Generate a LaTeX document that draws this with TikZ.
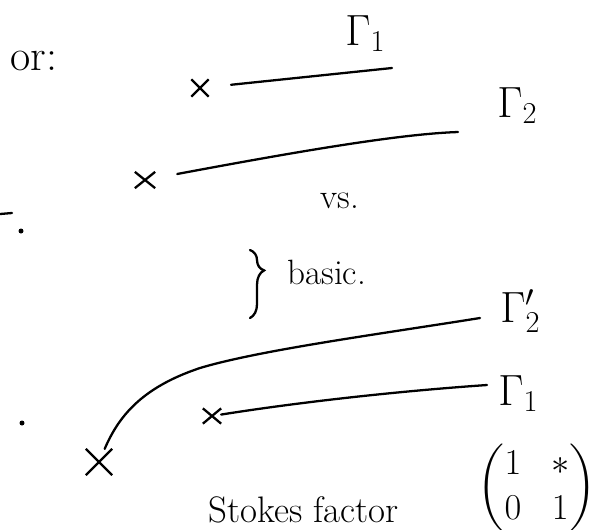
\documentclass[tikz,border=0pt]{standalone}
\usepackage{amsmath}
\usepackage{tikz}
\usetikzlibrary{shapes.misc, decorations.pathreplacing}
\tikzset{
    % Mark styles
    crossmark/.style={
        cross out,
        draw=black,
        line width=1.3pt,
        minimum size=0.3cm,
        inner sep=0pt
    },
    % Line styles
    handline/.style={
        draw=black,
        line width=1.3pt,
        line cap=round
    },
    % Text styles
    handtext/.style={
        font=\fontsize{20}{24}\selectfont,
        inner sep=0pt
    },
    gammalabel/.style={
        font=\fontsize{24}{28}\selectfont,
        inner sep=0pt
    }
}

\begin{document}
\begin{tikzpicture}[x=0.02cm, y=-0.02cm]
    \useasboundingbox (0,0) rectangle (605,529);

    \node[handtext, font=\fontsize{25}{30}\selectfont, anchor=base west] (or) at (10,70) {or:};
    \node[handtext, anchor=base west] (vs) at (320,208) {vs.};
    \node[handtext, anchor=base west] (basic) at (287,284) {basic.};
    \node[handtext, font=\fontsize{21}{25}\selectfont, anchor=base west] (stokes) at (208,522) {Stokes factor};
    \node[handtext] (stokesmat) at (537,488)
        {$\arraycolsep=8.5pt\renewcommand{\arraystretch}{1.05}\begin{pmatrix}1 & *\\ 0 & 1\end{pmatrix}$};

    % upper pair
    \node[crossmark] (c1) at (200,88) {};
    \node[crossmark, minimum width=0.36cm, minimum height=0.28cm] (c2) at (145,180) {};
    \coordinate (e1) at (392,68);
    \coordinate (e2) at (458,132);
    \node[gammalabel, anchor=base west] (g1up) at (345,45) {$\Gamma_1$};
    \node[gammalabel, anchor=base west] (g2up) at (497,117) {$\Gamma_2$};

    \draw[handline, shorten <=0.45cm] (c1) -- (e1);
    \draw[handline, shorten <=0.45cm] (c2) .. controls (300,151) and (400,134) .. (e2);

    % lower pair
    \node[crossmark, minimum size=0.48cm] (c3) at (99,462) {};
    \node[crossmark, minimum width=0.32cm, minimum height=0.26cm] (c4) at (212,416) {};
    \coordinate (e3) at (480,318);
    \coordinate (e4) at (487,385);
    \node[gammalabel, anchor=base west] (g2low) at (500,322) {$\Gamma_2'$};
    \node[gammalabel, anchor=base west] (g1low) at (498,405) {$\Gamma_1$};

    \draw[handline] (c3) .. controls (118,418) and (140,388) .. (200,368)
        .. controls (260,350) and (380,334) .. (e3);
    \draw[handline] (c4) .. controls (300,402) and (400,391) .. (e4);

    % brace and loose marks
    \draw[handline, decorate, decoration={brace, amplitude=8, aspect=0.3}] (250,250) -- (250,318);
    \draw[handline] (0,214) -- (12,213);
    \fill (21,231) circle (2.5);
    \fill (22,423) circle (2.5);
\end{tikzpicture}
\end{document}
